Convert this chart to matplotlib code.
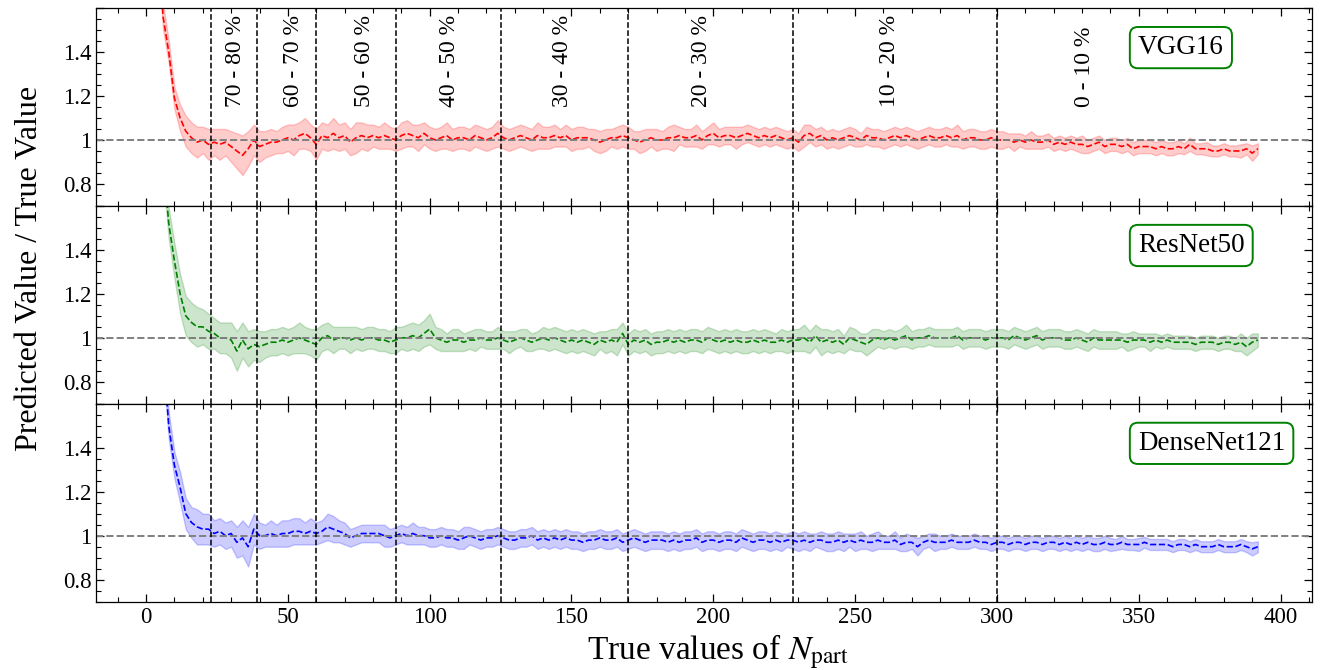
import numpy as np
import matplotlib
matplotlib.use('Agg')
import matplotlib.pyplot as plt
from matplotlib.ticker import MultipleLocator, FuncFormatter

plt.rcParams['font.family'] = 'serif'
plt.rcParams['font.serif'] = ['Liberation Serif', 'DejaVu Serif']
plt.rcParams['mathtext.fontset'] = 'stix'

# true N_part values (every 2nd bin)
n_part = np.arange(2, 393, 2)

# model mean of predicted/true
vgg_mean = [
    2.60, 1.95, 1.56, 1.40, 1.19, 1.10, 1.04, 1.01, 0.99, 1.00,
    0.98, 0.99, 0.98, 0.99, 0.97, 0.95, 0.93, 0.96, 1.00, 0.97,
    0.98, 0.99, 0.99, 1.00, 1.01, 1.00, 1.02, 1.03, 1.01, 0.98,
    1.02, 1.01, 1.03, 1.01, 1.02, 0.99, 1.01, 1.02, 1.01, 1.02,
    1.01, 1.02, 1.01, 1.00, 1.02, 1.03, 1.02, 1.01, 1.03, 1.01,
    1.00, 1.01, 1.02, 1.00, 1.01, 1.01, 1.00, 1.02, 1.01, 1.00,
    1.01, 1.03, 1.01, 1.00, 1.01, 1.02, 1.01, 1.00, 1.02, 1.01,
    1.01, 1.02, 1.01, 1.02, 1.00, 1.01, 1.01, 1.01, 1.00, 0.99,
    1.00, 1.01, 1.01, 1.02, 1.01, 1.00, 0.99, 1.00, 1.01, 1.00,
    1.00, 1.01, 1.01, 1.02, 1.01, 1.01, 1.02, 1.00, 1.02, 1.03,
    1.01, 1.02, 1.02, 1.01, 1.02, 1.03, 1.02, 1.01, 1.02, 1.01,
    1.02, 1.01, 1.00, 1.01, 0.99, 1.02, 1.03, 1.01, 1.02, 1.00,
    1.01, 1.00, 1.01, 1.02, 1.01, 1.00, 1.02, 1.01, 1.01, 1.00,
    1.01, 1.02, 1.01, 1.02, 1.01, 1.00, 1.01, 1.02, 1.01, 1.01,
    1.02, 1.01, 1.02, 1.00, 1.01, 1.01, 1.00, 1.00, 1.01, 1.00,
    1.00, 1.00, 0.99, 1.00, 0.99, 1.00, 0.99, 0.99, 1.00, 0.98,
    0.99, 0.98, 0.99, 0.98, 0.98, 0.97, 0.98, 0.99, 0.97, 0.98,
    0.98, 0.97, 0.98, 0.96, 0.97, 0.97, 0.97, 0.96, 0.97, 0.96,
    0.96, 0.97, 0.96, 0.98, 0.96, 0.96, 0.96, 0.95, 0.95, 0.96,
    0.95, 0.95, 0.95, 0.96, 0.94, 0.96,
]
vgg_std = [
    0.10, 0.08, 0.06, 0.05, 0.05, 0.06, 0.07, 0.07, 0.07, 0.06,
    0.07, 0.06, 0.07, 0.06, 0.07, 0.08, 0.09, 0.08, 0.07, 0.07,
    0.06, 0.06, 0.05, 0.06, 0.06, 0.07, 0.06, 0.07, 0.06, 0.07,
    0.06, 0.06, 0.07, 0.06, 0.06, 0.06, 0.07, 0.06, 0.06, 0.05,
    0.05, 0.06, 0.05, 0.05, 0.06, 0.06, 0.05, 0.06, 0.05, 0.05,
    0.05, 0.05, 0.06, 0.05, 0.05, 0.05, 0.05, 0.05, 0.05, 0.05,
    0.05, 0.06, 0.05, 0.05, 0.05, 0.05, 0.05, 0.05, 0.06, 0.05,
    0.05, 0.05, 0.04, 0.05, 0.05, 0.05, 0.05, 0.04, 0.05, 0.05,
    0.05, 0.04, 0.05, 0.05, 0.05, 0.04, 0.05, 0.05, 0.04, 0.05,
    0.04, 0.05, 0.06, 0.04, 0.04, 0.04, 0.05, 0.04, 0.04, 0.05,
    0.04, 0.04, 0.04, 0.05, 0.04, 0.04, 0.04, 0.04, 0.04, 0.04,
    0.04, 0.04, 0.04, 0.04, 0.04, 0.05, 0.04, 0.04, 0.04, 0.04,
    0.04, 0.04, 0.04, 0.04, 0.04, 0.03, 0.04, 0.04, 0.04, 0.04,
    0.04, 0.04, 0.04, 0.04, 0.04, 0.04, 0.04, 0.04, 0.04, 0.04,
    0.04, 0.04, 0.05, 0.04, 0.04, 0.04, 0.04, 0.04, 0.04, 0.04,
    0.04, 0.03, 0.04, 0.03, 0.03, 0.04, 0.03, 0.03, 0.03, 0.03,
    0.03, 0.03, 0.03, 0.03, 0.04, 0.03, 0.03, 0.03, 0.03, 0.03,
    0.03, 0.03, 0.03, 0.03, 0.03, 0.03, 0.03, 0.03, 0.03, 0.03,
    0.03, 0.03, 0.025, 0.03, 0.025, 0.025, 0.03, 0.025, 0.025, 0.025,
    0.025, 0.025, 0.03, 0.025, 0.035, 0.025,
]

resnet_mean = [
    3.20, 2.30, 1.82, 1.52, 1.35, 1.20, 1.10, 1.07, 1.05, 1.05,
    1.03, 1.02, 1.00, 1.00, 0.99, 0.94, 0.99, 0.95, 0.97, 0.96,
    0.97, 0.98, 0.98, 0.99, 0.98, 0.99, 1.00, 0.99, 0.98, 0.97,
    1.00, 1.01, 0.99, 1.00, 1.00, 0.99, 1.00, 0.99, 1.00, 1.00,
    0.99, 0.99, 0.98, 0.99, 1.00, 1.00, 1.01, 1.00, 1.02, 1.04,
    1.00, 0.99, 0.98, 0.99, 0.99, 0.98, 0.99, 0.99, 1.00, 0.99,
    0.99, 1.00, 0.99, 0.98, 0.99, 1.00, 0.99, 0.98, 0.99, 1.00,
    0.99, 1.00, 0.99, 0.98, 0.99, 0.98, 0.99, 0.98, 0.97, 0.99,
    0.98, 0.99, 0.98, 1.02, 0.97, 0.99, 0.98, 0.99, 0.97, 0.98,
    0.98, 0.99, 0.98, 0.99, 0.98, 0.99, 0.99, 0.98, 1.00, 0.99,
    0.98, 0.99, 0.98, 0.99, 0.98, 0.98, 0.99, 0.98, 0.99, 0.98,
    0.98, 0.99, 0.98, 0.99, 0.99, 1.00, 0.98, 1.01, 0.98, 0.99,
    0.98, 0.99, 0.97, 1.00, 0.99, 0.98, 0.97, 0.99, 1.00, 0.99,
    1.00, 0.99, 1.00, 1.01, 0.99, 1.00, 1.00, 1.01, 1.00, 1.00,
    1.00, 1.00, 1.01, 0.99, 1.00, 1.00, 1.00, 0.99, 1.00, 1.00,
    1.00, 0.99, 1.01, 1.00, 0.99, 1.00, 1.01, 0.99, 1.00, 1.00,
    1.00, 0.99, 0.99, 1.00, 0.99, 0.98, 1.00, 0.99, 0.99, 0.99,
    0.99, 0.99, 0.98, 0.99, 0.99, 0.99, 0.98, 0.99, 0.98, 0.99,
    0.98, 0.98, 0.98, 0.98, 0.97, 0.98, 0.98, 0.98, 0.97, 0.98,
    0.98, 0.97, 0.98, 0.96, 0.98, 0.99,
]
resnet_std = [
    0.12, 0.10, 0.08, 0.07, 0.08, 0.09, 0.09, 0.09, 0.09, 0.08,
    0.08, 0.07, 0.07, 0.07, 0.08, 0.09, 0.08, 0.08, 0.07, 0.07,
    0.06, 0.06, 0.06, 0.06, 0.06, 0.06, 0.07, 0.06, 0.06, 0.07,
    0.06, 0.06, 0.06, 0.05, 0.05, 0.06, 0.05, 0.05, 0.05, 0.05,
    0.05, 0.05, 0.05, 0.06, 0.05, 0.06, 0.06, 0.06, 0.06, 0.07,
    0.05, 0.05, 0.04, 0.05, 0.05, 0.04, 0.04, 0.05, 0.04, 0.04,
    0.04, 0.05, 0.04, 0.05, 0.04, 0.04, 0.05, 0.04, 0.04, 0.05,
    0.05, 0.05, 0.05, 0.05, 0.05, 0.05, 0.05, 0.05, 0.05, 0.04,
    0.05, 0.05, 0.06, 0.05, 0.05, 0.05, 0.05, 0.05, 0.05, 0.05,
    0.05, 0.05, 0.05, 0.05, 0.05, 0.05, 0.05, 0.05, 0.05, 0.05,
    0.05, 0.05, 0.05, 0.05, 0.05, 0.05, 0.05, 0.05, 0.05, 0.05,
    0.04, 0.05, 0.05, 0.05, 0.05, 0.06, 0.05, 0.05, 0.06, 0.05,
    0.05, 0.05, 0.04, 0.05, 0.05, 0.04, 0.05, 0.05, 0.04, 0.04,
    0.04, 0.04, 0.04, 0.05, 0.04, 0.04, 0.04, 0.04, 0.04, 0.04,
    0.04, 0.04, 0.04, 0.04, 0.04, 0.04, 0.04, 0.04, 0.04, 0.04,
    0.04, 0.04, 0.04, 0.04, 0.04, 0.04, 0.04, 0.04, 0.04, 0.04,
    0.04, 0.04, 0.04, 0.04, 0.04, 0.04, 0.04, 0.04, 0.04, 0.04,
    0.04, 0.03, 0.04, 0.04, 0.03, 0.03, 0.04, 0.03, 0.03, 0.03,
    0.03, 0.03, 0.03, 0.03, 0.03, 0.03, 0.03, 0.03, 0.03, 0.03,
    0.03, 0.03, 0.04, 0.04, 0.04, 0.03,
]

densenet_mean = [
    3.10, 2.20, 1.85, 1.50, 1.32, 1.22, 1.10, 1.06, 1.04, 1.03,
    1.03, 1.01, 1.02, 1.00, 1.01, 0.97, 0.99, 0.95, 1.03, 1.00,
    1.00, 1.01, 1.00, 1.01, 1.01, 1.02, 1.02, 1.01, 1.02, 1.01,
    1.02, 1.04, 1.03, 1.02, 1.01, 0.99, 1.00, 1.01, 1.01, 1.01,
    1.01, 1.00, 0.99, 1.00, 1.01, 1.00, 1.01, 1.00, 1.00, 0.99,
    0.99, 1.00, 0.99, 0.99, 0.98, 0.99, 1.00, 0.99, 0.98, 0.99,
    0.99, 1.00, 0.99, 0.98, 0.98, 0.99, 0.99, 1.00, 0.98, 0.99,
    0.98, 0.99, 0.98, 0.99, 0.98, 0.98, 0.97, 0.98, 0.98, 0.99,
    0.98, 0.98, 0.99, 0.97, 0.98, 0.99, 0.98, 0.97, 0.98, 0.98,
    0.98, 0.97, 0.98, 0.97, 0.98, 0.98, 0.99, 0.97, 0.98, 0.98,
    0.97, 0.98, 0.98, 0.97, 0.99, 0.98, 0.97, 0.98, 0.98, 0.97,
    0.98, 0.97, 0.98, 0.98, 0.97, 0.98, 0.97, 0.98, 0.98, 0.97,
    0.97, 0.98, 0.97, 0.98, 0.97, 0.98, 0.97, 0.97, 0.98, 0.97,
    0.97, 0.98, 0.96, 0.97, 0.97, 0.95, 0.97, 0.98, 0.97, 0.97,
    0.97, 0.98, 0.97, 0.97, 0.97, 0.98, 0.97, 0.97, 0.96, 0.97,
    0.97, 0.96, 0.97, 0.97, 0.96, 0.97, 0.97, 0.96, 0.97, 0.97,
    0.96, 0.97, 0.96, 0.97, 0.96, 0.97, 0.96, 0.96, 0.97, 0.96,
    0.96, 0.97, 0.96, 0.96, 0.96, 0.97, 0.96, 0.96, 0.96, 0.96,
    0.95, 0.96, 0.96, 0.95, 0.96, 0.95, 0.95, 0.95, 0.96, 0.95,
    0.95, 0.95, 0.96, 0.95, 0.94, 0.95,
]
densenet_std = [
    0.10, 0.08, 0.07, 0.06, 0.06, 0.07, 0.07, 0.07, 0.08, 0.07,
    0.07, 0.06, 0.06, 0.06, 0.06, 0.07, 0.08, 0.09, 0.07, 0.06,
    0.05, 0.06, 0.05, 0.06, 0.06, 0.06, 0.06, 0.05, 0.06, 0.05,
    0.05, 0.06, 0.06, 0.05, 0.05, 0.04, 0.04, 0.04, 0.04, 0.04,
    0.04, 0.05, 0.04, 0.04, 0.04, 0.04, 0.05, 0.04, 0.04, 0.04,
    0.04, 0.04, 0.04, 0.04, 0.04, 0.05, 0.04, 0.04, 0.04, 0.04,
    0.04, 0.04, 0.04, 0.04, 0.04, 0.04, 0.04, 0.04, 0.04, 0.04,
    0.04, 0.04, 0.04, 0.04, 0.04, 0.04, 0.04, 0.04, 0.04, 0.04,
    0.04, 0.04, 0.04, 0.04, 0.04, 0.04, 0.04, 0.04, 0.04, 0.04,
    0.04, 0.04, 0.04, 0.04, 0.04, 0.04, 0.04, 0.04, 0.04, 0.04,
    0.04, 0.04, 0.04, 0.04, 0.04, 0.04, 0.04, 0.04, 0.04, 0.04,
    0.04, 0.04, 0.03, 0.04, 0.04, 0.04, 0.04, 0.03, 0.04, 0.04,
    0.04, 0.04, 0.04, 0.03, 0.04, 0.04, 0.03, 0.04, 0.04, 0.03,
    0.03, 0.04, 0.03, 0.04, 0.03, 0.04, 0.03, 0.03, 0.04, 0.03,
    0.03, 0.03, 0.03, 0.03, 0.03, 0.03, 0.03, 0.03, 0.03, 0.03,
    0.03, 0.03, 0.03, 0.03, 0.03, 0.03, 0.03, 0.03, 0.03, 0.03,
    0.03, 0.03, 0.03, 0.03, 0.03, 0.03, 0.03, 0.03, 0.03, 0.03,
    0.025, 0.03, 0.025, 0.025, 0.03, 0.025, 0.025, 0.025, 0.025, 0.025,
    0.025, 0.025, 0.025, 0.025, 0.025, 0.025, 0.025, 0.025, 0.025, 0.025,
    0.025, 0.025, 0.025, 0.025, 0.03, 0.025,
]

# centrality class boundaries and labels
class_edges = [23, 39, 60, 88, 125, 170, 228, 300]
class_labels = ['70 - 80 %', '60 - 70 %', '50 - 60 %', '40 - 50 %',
                '30 - 40 %', '20 - 30 %', '10 - 20 %', '0 - 10 %']
class_label_x = [31.5, 52, 77, 107, 147, 196, 262, 331]

models = ['VGG16', 'ResNet50', 'DenseNet121']
colors = ['red', 'green', 'blue']
means = [vgg_mean, resnet_mean, densenet_mean]
stds = [vgg_std, resnet_std, densenet_std]

fig, axes = plt.subplots(3, 1, figsize=(13.21, 6.70), dpi=100, sharex=True)
fig.subplots_adjust(left=0.073, right=0.993, top=0.988, bottom=0.102, hspace=0)

for ax, name, color, mean, std in zip(axes, models, colors, means, stds):
    mean = np.array(mean)
    std = np.array(std)
    ax.fill_between(n_part, mean - std, mean + std, color=color, alpha=0.2, lw=1)
    ax.plot(n_part, mean, '--', color=color, lw=1.2)
    ax.axhline(1, color='gray', ls='--', lw=1.4)
    for edge in class_edges:
        ax.axvline(edge, color='black', ls='--', lw=1.1)

    ax.text(0.857, 0.80, name, transform=ax.transAxes, fontsize=19.5,
            ha='left', va='center',
            bbox=dict(boxstyle='round,pad=0.3', fc='white', ec='green', lw=1.4))

    ax.set_ylim(0.7, 1.6)
    ax.set_xlim(-17.5, 411)
    ax.yaxis.set_major_locator(MultipleLocator(0.2))
    ax.yaxis.set_minor_locator(MultipleLocator(0.05))
    ax.xaxis.set_major_locator(MultipleLocator(50))
    ax.xaxis.set_minor_locator(MultipleLocator(10))
    ax.yaxis.set_major_formatter(FuncFormatter(lambda v, _: '' if v < 0.75 or v > 1.5 else f'{v:g}'))
    ax.tick_params(which='both', direction='in', top=True, right=True, labelsize=16.5)
    ax.tick_params(which='major', length=6, width=0.9)
    ax.tick_params(which='minor', length=3.5, width=0.8)
    for sp in ax.spines.values():
        sp.set_linewidth(0.9)

for lab, xpos in zip(class_labels, class_label_x):
    axes[0].text(xpos, 1.15, lab, rotation=90, ha='center', va='bottom', fontsize=17)

axes[-1].set_xlabel(r'True values of $N_\mathrm{part}$', fontsize=24)
axes[-1].xaxis.set_label_coords(0.511, -0.155)
fig.text(0.022, 0.60, 'Predicted Value / True Value', rotation=90,
         ha='center', va='center', fontsize=23)

fig.savefig('out.png', dpi=100)
